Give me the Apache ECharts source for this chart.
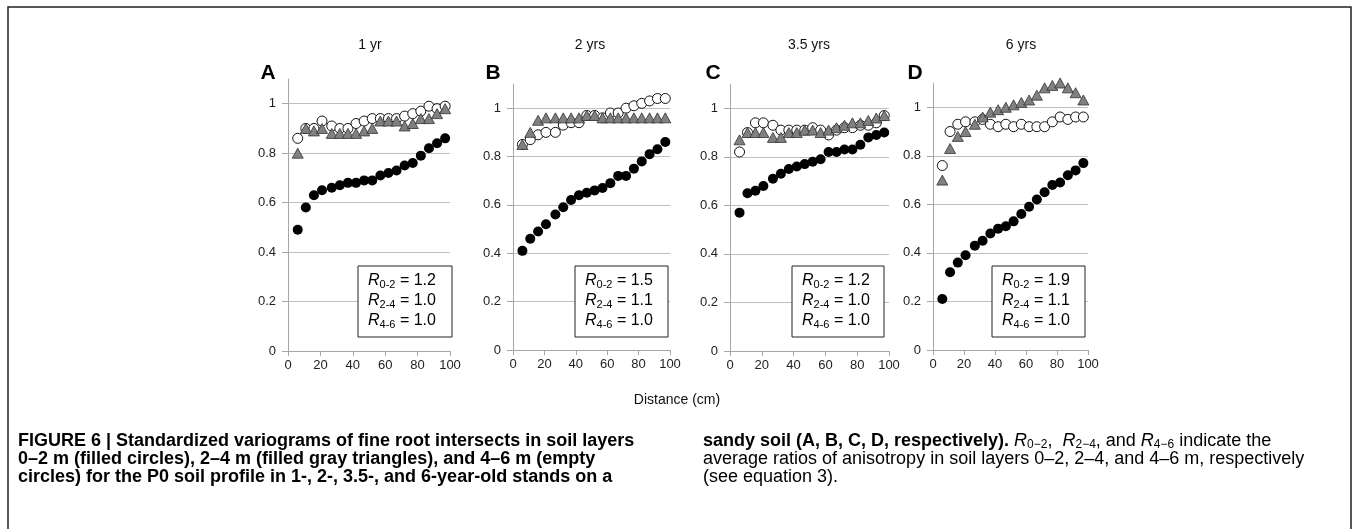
<!DOCTYPE html>
<html>
<head>
<meta charset="utf-8">
<script src="https://cdn.jsdelivr.net/npm/echarts@6/dist/echarts.min.js"></script>
<style>
  html, body { margin: 0; padding: 0; background: #fff; }
  #chart { width: 1355px; height: 529px; }
</style>
</head>
<body>
<div id="chart"></div>
<script>
// lag distances (cm), shared by all four panels
const distances = [6, 11, 16, 21, 27, 32, 37, 42, 47, 52, 57, 62, 67, 72, 77, 82, 87, 92, 97];

// panel titles / letters
const ages = ['1 yr', '2 yrs', '3.5 yrs', '6 yrs'];
const letters = ['A', 'B', 'C', 'D'];

// y ticks
const yTicks = [0, 0.2, 0.4, 0.6, 0.8, 1];

// 0-2 m layer (filled circles)
const layer02A = [0.49, 0.58, 0.63, 0.65, 0.66, 0.67, 0.68, 0.68, 0.69, 0.69, 0.71, 0.72, 0.73, 0.75, 0.76, 0.79, 0.82, 0.84, 0.86];
const layer02B = [0.41, 0.46, 0.49, 0.52, 0.56, 0.59, 0.62, 0.64, 0.65, 0.66, 0.67, 0.69, 0.72, 0.72, 0.75, 0.78, 0.81, 0.83, 0.86];
const layer02C = [0.57, 0.65, 0.66, 0.68, 0.71, 0.73, 0.75, 0.76, 0.77, 0.78, 0.79, 0.82, 0.82, 0.83, 0.83, 0.85, 0.88, 0.89, 0.90];
const layer02D = [0.21, 0.32, 0.36, 0.39, 0.43, 0.45, 0.48, 0.50, 0.51, 0.53, 0.56, 0.59, 0.62, 0.65, 0.68, 0.69, 0.72, 0.74, 0.77];

// 2-4 m layer (gray triangles)
const layer24A = [0.80, 0.90, 0.89, 0.90, 0.88, 0.88, 0.88, 0.88, 0.89, 0.90, 0.93, 0.93, 0.93, 0.91, 0.92, 0.94, 0.94, 0.96, 0.98];
const layer24B = [0.85, 0.90, 0.95, 0.96, 0.96, 0.96, 0.96, 0.96, 0.97, 0.97, 0.96, 0.96, 0.96, 0.96, 0.96, 0.96, 0.96, 0.96, 0.96];
const layer24C = [0.87, 0.90, 0.90, 0.90, 0.88, 0.88, 0.90, 0.90, 0.91, 0.91, 0.90, 0.91, 0.92, 0.93, 0.94, 0.94, 0.95, 0.96, 0.97];
const layer24D = [0.70, 0.83, 0.88, 0.90, 0.93, 0.96, 0.98, 0.99, 1.00, 1.01, 1.02, 1.03, 1.05, 1.08, 1.09, 1.10, 1.08, 1.06, 1.03];

// 4-6 m layer (empty circles)
const layer46A = [0.86, 0.90, 0.90, 0.93, 0.91, 0.90, 0.90, 0.92, 0.93, 0.94, 0.94, 0.94, 0.94, 0.95, 0.96, 0.97, 0.99, 0.98, 0.99];
const layer46B = [0.85, 0.87, 0.89, 0.90, 0.90, 0.93, 0.94, 0.94, 0.97, 0.97, 0.96, 0.98, 0.98, 1.00, 1.01, 1.02, 1.03, 1.04, 1.04];
const layer46C = [0.82, 0.90, 0.94, 0.94, 0.93, 0.91, 0.91, 0.91, 0.91, 0.92, 0.91, 0.89, 0.91, 0.92, 0.92, 0.93, 0.93, 0.94, 0.97];
const layer46D = [0.76, 0.90, 0.93, 0.94, 0.94, 0.95, 0.93, 0.92, 0.93, 0.92, 0.93, 0.92, 0.92, 0.92, 0.94, 0.96, 0.95, 0.96, 0.96];

// anisotropy ratios shown in the boxes
const ratio02 = ['1.2', '1.5', '1.2', '1.9'];
const ratio24 = ['1.0', '1.1', '1.0', '1.1'];
const ratio46 = ['1.0', '1.0', '1.0', '1.0'];

const layers02 = [layer02A, layer02B, layer02C, layer02D];
const layers24 = [layer24A, layer24B, layer24C, layer24D];
const layers46 = [layer46A, layer46B, layer46C, layer46D];

const grids = [
  { left: 288, top: 79, width: 162, height: 272 },
  { left: 513, top: 84, width: 157, height: 266 },
  { left: 730, top: 84, width: 159, height: 267 },
  { left: 933, top: 83, width: 155, height: 267 }
];
const boxes = [
  { x: 358, y: 266, w: 94 },
  { x: 575, y: 266, w: 93 },
  { x: 792, y: 266, w: 92 },
  { x: 992, y: 266, w: 93 }
];
const titleX = [370, 590, 809, 1021];
const letterX = [268, 493, 713, 915];

const FONT = 'Liberation Sans, Arial, sans-serif';
const pairs = vals => vals.map((v, i) => [distances[i], v]);

const xAxes = grids.map((g, i) => ({
  type: 'value', gridIndex: i, min: 0, max: 100, interval: 20,
  axisLine: { lineStyle: { color: '#a6a6a6', width: 1 } },
  axisTick: { show: true, length: 5, lineStyle: { color: '#a6a6a6' } },
  axisLabel: { color: '#222', fontSize: 13, fontFamily: FONT, margin: 8 },
  splitLine: { show: false }
}));

const yAxes = grids.map((g, i) => ({
  type: 'value', gridIndex: i, min: 0, max: 1.1, interval: 0.2,
  axisLine: { show: true, lineStyle: { color: '#a6a6a6', width: 1 } },
  axisTick: { show: true, length: 6, customValues: yTicks, lineStyle: { color: '#a6a6a6' } },
  axisLabel: { color: '#222', fontSize: 13, fontFamily: FONT, margin: 12, customValues: yTicks },
  splitLine: { show: true, lineStyle: { color: '#bfbfbf', width: 1 } }
}));

const series = [];
grids.forEach((g, i) => {
  series.push({
    type: 'scatter', xAxisIndex: i, yAxisIndex: i, data: pairs(layers46[i]),
    symbol: 'circle', symbolSize: 10, z: 2,
    itemStyle: { color: '#fff', borderColor: '#111', borderWidth: 1, opacity: 1 }
  });
  series.push({
    type: 'scatter', xAxisIndex: i, yAxisIndex: i, data: pairs(layers24[i]),
    symbol: 'triangle', symbolSize: [11, 10], z: 3,
    itemStyle: { color: '#808080', borderColor: '#333', borderWidth: 0.8, opacity: 1 }
  });
  series.push({
    type: 'scatter', xAxisIndex: i, yAxisIndex: i, data: pairs(layers02[i]),
    symbol: 'circle', symbolSize: 10, z: 4,
    itemStyle: { color: '#000', opacity: 1 }
  });
});

const boxRich = {
  r: { fontStyle: 'italic', fontSize: 16, fontFamily: FONT, color: '#111', lineHeight: 20 },
  s: { fontSize: 11, fontFamily: FONT, color: '#111', lineHeight: 12, padding: [7, 0, 0, 0] },
  t: { fontSize: 16, fontFamily: FONT, color: '#111', lineHeight: 20 }
};

const graphic = [
  // outer frame
  { type: 'rect', shape: { x: 8, y: 7, width: 1343, height: 560 },
    style: { fill: 'none', stroke: '#222', lineWidth: 1.5 }, silent: true }
];
grids.forEach((g, i) => {
  graphic.push({ type: 'text', x: titleX[i], y: 45,
    style: { text: ages[i], font: '14px ' + FONT, fill: '#111', textAlign: 'center', textVerticalAlign: 'middle' } });
  graphic.push({ type: 'text', x: letterX[i], y: 73,
    style: { text: letters[i], font: 'bold 21px ' + FONT, fill: '#000', textAlign: 'center', textVerticalAlign: 'middle' } });
  const b = boxes[i];
  graphic.push({ type: 'rect', shape: { x: b.x, y: b.y, width: b.w, height: 71 },
    style: { fill: '#fff', stroke: '#222', lineWidth: 1 }, z: 10 });
  graphic.push({ type: 'text', x: b.x + 10, y: b.y + 5, z: 11,
    style: {
      text: '{r|R}{s|0-2}{t| = ' + ratio02[i] + '}\n{r|R}{s|2-4}{t| = ' + ratio24[i] + '}\n{r|R}{s|4-6}{t| = ' + ratio46[i] + '}',
      rich: boxRich, textAlign: 'left', textVerticalAlign: 'top'
    } });
});

graphic.push({ type: 'text', x: 677, y: 400,
  style: { text: 'Distance (cm)', font: '14px ' + FONT, fill: '#111', textAlign: 'center', textVerticalAlign: 'middle' } });

// caption
const capRich = {
  b: { fontSize: 18, fontWeight: 'bold', fontFamily: FONT, color: '#1a1a1a', lineHeight: 18 },
  n: { fontSize: 18, fontFamily: FONT, color: '#444', lineHeight: 18 },
  i: { fontSize: 18, fontStyle: 'italic', fontFamily: FONT, color: '#444', lineHeight: 18 },
  s: { fontSize: 12, fontFamily: FONT, color: '#444', lineHeight: 10, padding: [8, 0, 0, 0] }
};
graphic.push({ type: 'text', x: 18, y: 432,
  style: {
    text: '{b|FIGURE 6 | Standardized variograms of fine root intersects in soil layers}\n' +
      '{b|0–2 m (filled circles), 2–4 m (filled gray triangles), and 4–6 m (empty}\n' +
      '{b|circles) for the P0 soil profile in 1-, 2-, 3.5-, and 6-year-old stands on a}',
    rich: capRich, textVerticalAlign: 'top'
  } });
graphic.push({ type: 'text', x: 703, y: 432,
  style: {
    text: '{b|sandy soil (A, B, C, D, respectively).}{n| }{i|R}{s|0−2}{n|,  }{i|R}{s|2−4}{n|, and }{i|R}{s|4−6}{n| indicate the}\n' +
      '{n|average ratios of anisotropy in soil layers 0–2, 2–4, and 4–6 m, respectively}\n' +
      '{n|(see equation 3).}',
    rich: capRich, textVerticalAlign: 'top'
  } });

const option = {
  backgroundColor: '#fff',
  animation: false,
  grid: grids.map(g => Object.assign({ containLabel: false }, g)),
  xAxis: xAxes,
  yAxis: yAxes,
  series: series,
  graphic: graphic
};

const chart = echarts.init(document.getElementById('chart'));
chart.setOption(option);
window.addEventListener('resize', () => chart.resize());
</script>
</body>
</html>
